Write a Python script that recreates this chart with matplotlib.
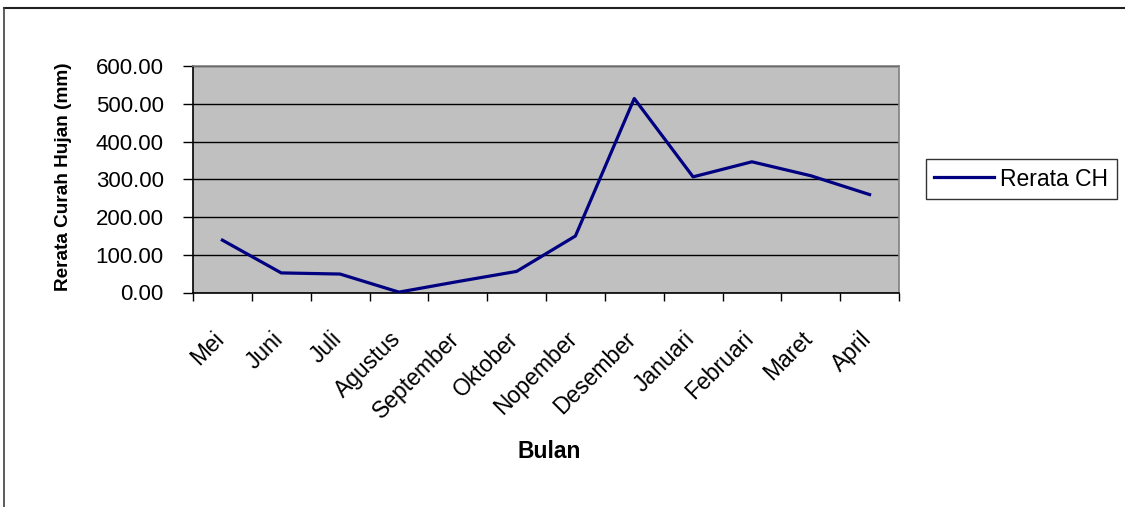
import matplotlib.pyplot as plt
from matplotlib.lines import Line2D
from matplotlib.transforms import ScaledTranslation

plt.rcParams['font.family'] = ['Liberation Sans', 'DejaVu Sans']

bulan = ['Mei', 'Juni', 'Juli', 'Agustus', 'September', 'Oktober', 'Nopember',
         'Desember', 'Januari', 'Februari', 'Maret', 'April']
rerata_ch = [139, 52, 49, 1, 29, 56, 150, 515, 307, 347, 310, 260]
y_ticks = [0, 100, 200, 300, 400, 500, 600]

W, H = 1125, 507
fig = plt.figure(figsize=(W / 100, H / 100), dpi=100)
ax = fig.add_axes([193 / W, 1 - 292.5 / H, 706 / W, 226 / H])

x = list(range(len(bulan)))
ax.plot(x, rerata_ch, color='#000080', linewidth=2.3, label='Rerata CH', zorder=3)

ax.set_facecolor('#C0C0C0')
ax.set_xlim(-0.5, len(bulan) - 0.5)
ax.set_ylim(0, 600)
ax.set_yticks(y_ticks)
ax.set_yticklabels([f'{v:.2f}' for v in y_ticks], fontsize=16)
ax.grid(axis='y', color='black', linewidth=1.0, zorder=1)
ax.set_axisbelow(True)

# category labels in the middle, tick marks on the boundaries
ax.set_xticks(x)
ax.set_xticklabels(bulan, rotation=45, ha='right', va='top', rotation_mode='anchor', fontsize=16.5)
ax.tick_params(axis='x', which='major', length=0, pad=25)
shift = ScaledTranslation(-10 / 100, 0, fig.dpi_scale_trans)
for lab in ax.get_xticklabels():
    lab.set_transform(lab.get_transform() + shift)
ax.set_xticks([i - 0.5 for i in range(len(bulan) + 1)], minor=True)
ax.tick_params(axis='x', which='minor', length=6, width=1, direction='out')
ax.tick_params(axis='y', length=7, width=1, direction='out', pad=14)

for s in ['left', 'bottom']:
    ax.spines[s].set_color('black')
    ax.spines[s].set_linewidth(1.2)
for s in ['top', 'right']:
    ax.spines[s].set_color('#808080')
    ax.spines[s].set_linewidth(1.2)

fig.text(64 / W, 1 - 177 / H, 'Rerata Curah Hujan (mm)', rotation=90, fontsize=13.7,
         fontweight='bold', ha='center', va='center')
fig.text(549 / W, 1 - 451 / H, 'Bulan', fontsize=16.5, fontweight='bold', ha='center', va='center')

leg = ax.legend(loc='center left', bbox_to_anchor=(926 / W, 1 - 179 / H),
                bbox_transform=fig.transFigure, fontsize=16.5, frameon=True, fancybox=False,
                handlelength=2.6, handletextpad=0.3, borderpad=0.35, borderaxespad=0)
leg.get_frame().set_edgecolor('black')
leg.get_frame().set_linewidth(1.0)

# outer chart frame (only top and left edges visible)
fig.add_artist(Line2D([4 / W, 1], [1 - 8 / H, 1 - 8 / H], transform=fig.transFigure,
                      color='#202020', linewidth=1.5))
fig.add_artist(Line2D([4 / W, 4 / W], [0, 1 - 8 / H], transform=fig.transFigure,
                      color='#404040', linewidth=1.2))

plt.savefig('out.png', dpi=100)
